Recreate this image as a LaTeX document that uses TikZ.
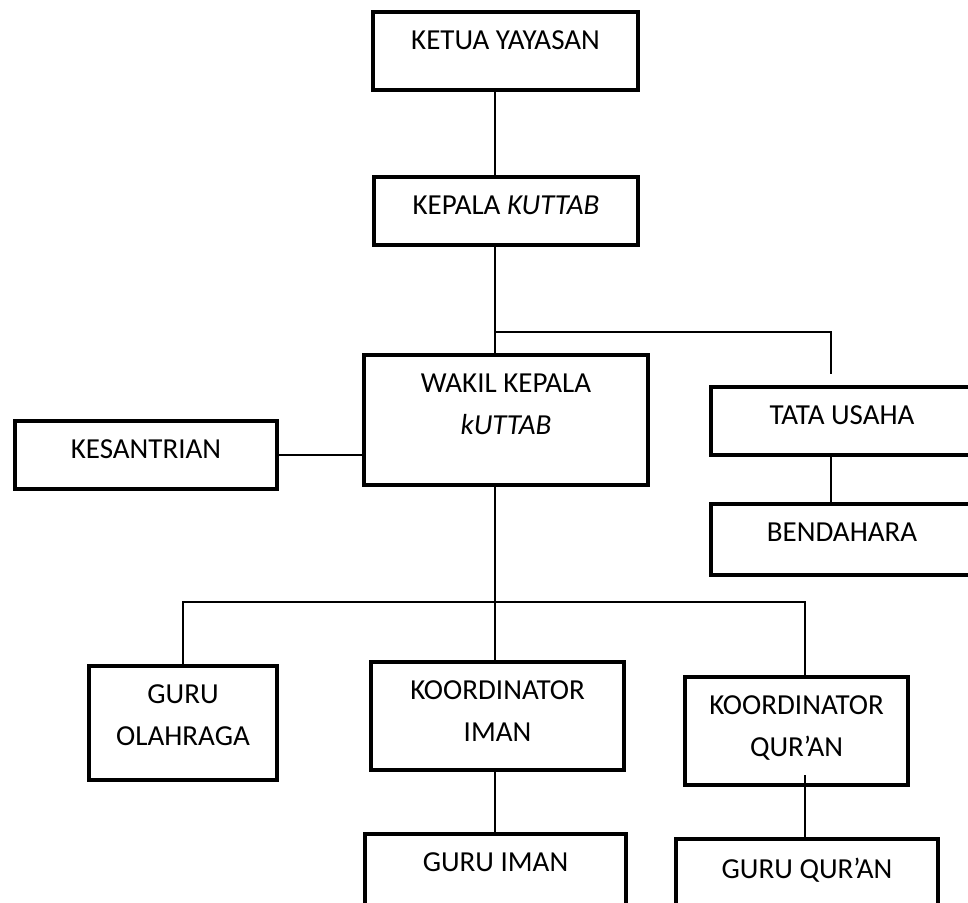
\documentclass[tikz,border=0pt]{standalone}
\usepackage{fontspec}
\setmainfont{Carlito}
\tikzset{
  kotak/.style={draw, rectangle, line width=2.3pt, inner sep=0pt},
  isi/.style={anchor=north, yshift=-10.7pt, inner sep=0pt, outer sep=0pt, align=center, font=\fontsize{14.5}{21}\selectfont},
  garis/.style={line width=0.7pt}
}

\begin{document}
\begin{tikzpicture}[x=0.5pt, y=-0.5pt]
        \useasboundingbox (0,0) rectangle (968,903);

        % Pimpinan
        \node[kotak, minimum width=132.5pt, minimum height=39pt, label={[isi]north:KETUA YAYASAN}] (ketua) at (505.5,51) {};
        \node[kotak, minimum width=132pt, minimum height=34pt, label={[isi]north:KEPALA \textit{KUTTAB}}] (kepala) at (506,211) {};
        \node[kotak, minimum width=142pt, minimum height=65pt, label={[isi]north:{WAKIL KEPALA\\\textit{kUTTAB}}}] (wakil) at (506,420) {};

        % Samping
        \node[kotak, minimum width=131pt, minimum height=34pt, label={[isi]north:KESANTRIAN}] (kesantrian) at (146,455) {};
        \node[kotak, minimum width=131pt, minimum height=34pt, label={[isi]north:TATA USAHA}] (tata) at (842,421) {};
        \node[kotak, minimum width=131pt, minimum height=35.5pt, label={[isi]north:BENDAHARA}] (bendahara) at (842,539.5) {};

        % Guru dan koordinator
        \node[kotak, minimum width=94pt, minimum height=57pt, label={[isi]north:{GURU\\OLAHRAGA}}] (olahraga) at (183,723) {};
        \node[kotak, minimum width=126.5pt, minimum height=54pt, label={[isi]north:{KOORDINATOR\\IMAN}}] (kiman) at (497.5,716) {};
        \node[kotak, minimum width=111.5pt, minimum height=54pt, label={[isi]north:{KOORDINATOR\\QUR’AN}}] (kquran) at (796.5,731) {};
        \node[kotak, minimum width=130.5pt, minimum height=42pt, label={[isi]north:GURU IMAN}] (giman) at (495.5,876) {};
        \node[kotak, minimum width=131pt, minimum height=39.5pt, label={[isi]north:GURU QUR’AN}] (gquran) at (807,878.5) {};

        % Titik bantu
        \coordinate (tengah) at (495,0);
        \coordinate (simpang1) at (495,332);
        \coordinate (simpang2) at (495,602);
        \coordinate (ujungtu) at (831,374);
        \coordinate (garisq) at (805,0);
        \coordinate (pangkalq) at (805,775);

        % Garis
        \draw[garis] (ketua.south -| tengah) -- (kepala.north -| tengah);
        \draw[garis] (kepala.south -| tengah) -- (wakil.north -| tengah);
        \draw[garis] (simpang1) -| (ujungtu);
        \draw[garis] (tata.south -| ujungtu) -- (bendahara.north -| ujungtu);
        \draw[garis] (kesantrian.east) -- (wakil.west |- kesantrian.east);
        \draw[garis] (wakil.south -| tengah) -- (kiman.north -| tengah);
        \draw[garis] (olahraga.north) |- (simpang2) -| (kquran.north -| garisq);
        \draw[garis] (kiman.south -| tengah) -- (giman.north -| tengah);
        \draw[garis] (pangkalq) -- (gquran.north -| pangkalq);

\end{tikzpicture}
\end{document}
